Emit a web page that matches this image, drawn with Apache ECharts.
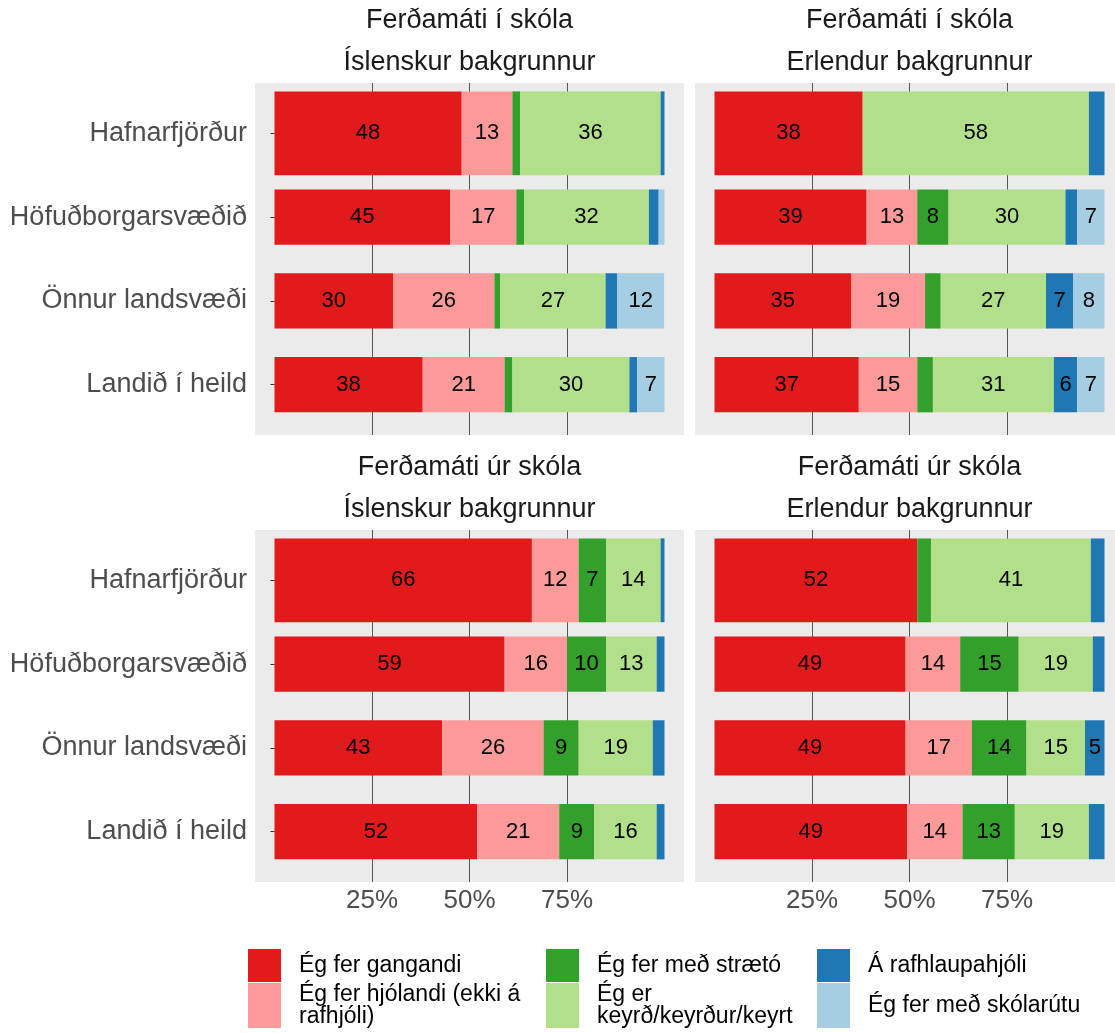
<!DOCTYPE html>
<html><head><meta charset="utf-8">
<script src="https://cdn.jsdelivr.net/npm/echarts@6/dist/echarts.min.js"></script>
<style>html,body{margin:0;padding:0;background:#fff}#c{width:1115px;height:1033px}</style>
</head><body><div id="c"></div>
<script>
// ---- data ----
const categories = ['Hafnarfjörður', 'Höfuðborgarsvæðið', 'Önnur landsvæði', 'Landið í heild'];
const modes = ['Ég fer gangandi', 'Ég fer hjólandi (ekki á rafhjóli)', 'Ég fer með strætó',
  'Ég er keyrð/keyrður/keyrt', 'Á rafhlaupahjóli', 'Ég fer með skólarútu'];
const legendLabels = ['Ég fer gangandi', 'Ég fer hjólandi (ekki á\nrafhjóli)', 'Ég fer með strætó',
  'Ég er\nkeyrð/keyrður/keyrt', 'Á rafhlaupahjóli', 'Ég fer með skólarútu'];
const stripTravel = ['Ferðamáti í skóla', 'Ferðamáti úr skóla'];
const stripBackground = ['Íslenskur bakgrunnur', 'Erlendur bakgrunnur'];
const xTickValues = [25, 50, 75];
// rows: categories, columns: modes (percent)
const iSkolaIslenskur = [
  [48, 13, 2, 36, 1, 0],
  [45, 17, 2, 32, 2.5, 1.5],
  [30.4, 26, 1.5, 27, 3, 12],
  [38, 21, 2, 30, 2, 7]
];
const iSkolaErlendur = [
  [38, 0, 0, 58, 4, 0],
  [39, 13, 8, 30, 3, 7],
  [35, 19, 4, 27, 7, 8],
  [37, 15, 4, 31, 6, 7]
];
const urSkolaIslenskur = [
  [66, 12, 7, 14, 1, 0],
  [59, 16, 10, 13, 2, 0],
  [43, 26, 9, 19, 3, 0],
  [52, 21, 9, 16, 2, 0]
];
const urSkolaErlendur = [
  [52, 0, 3.5, 41, 3.5, 0],
  [49, 14, 15, 19, 3, 0],
  [49, 17, 14, 15, 5, 0],
  [49.4, 14.2, 13.4, 19, 4, 0]
];

// ---- style ----
const palette = ['#E31A1C', '#FB9A99', '#33A02C', '#B2DF8A', '#1F78B4', '#A6CEE3'];
const FONT = "'Liberation Sans', Arial, sans-serif";
const PW = 429, PH = 352, XPAD = 19.5;
const panels = [
  { left: 255, top: 83, data: iSkolaIslenskur, r: 0, c: 0 },
  { left: 695, top: 83, data: iSkolaErlendur, r: 0, c: 1 },
  { left: 255, top: 530, data: urSkolaIslenskur, r: 1, c: 0 },
  { left: 695, top: 530, data: urSkolaErlendur, r: 1, c: 1 }
];

const grid = [], xAxis = [], yAxis = [], series = [], title = [];
const lbl = p => (Math.round(p.value) >= 5 ? String(Math.round(p.value)) : '');

panels.forEach((p, pi) => {
  const showY = p.c === 0, showX = p.r === 1;
  const g = grid.length;
  grid.push({ left: p.left, top: p.top, width: PW, height: PH, show: true, backgroundColor: '#EBEBEB', borderWidth: 0, z: 0 });
  grid.push({ left: p.left + XPAD, top: p.top, width: PW - 2 * XPAD, height: PH, z: 1 });
  grid.push({ left: p.left + XPAD, top: p.top + PH * 0.1 / 4.2, width: PW - 2 * XPAD, height: PH * 4 / 4.2, z: 2 });
  const xb = xAxis.length;
  xAxis.push({ gridIndex: g, type: 'value', show: false, min: 0, max: 1 });
  xAxis.push({
    gridIndex: g + 1, type: 'value', min: 0, max: 100, interval: 25, z: 1,
    axisLine: { show: false }, axisTick: { show: false },
    splitLine: { show: true, showMinLine: false, showMaxLine: false, lineStyle: { color: '#555555', width: 1 } },
    axisLabel: {
      show: showX, showMinLabel: false, showMaxLabel: false,
      formatter: v => (xTickValues.indexOf(v) >= 0 ? v + '%' : ''),
      fontSize: 26, color: '#4D4D4D', fontFamily: FONT, margin: 6
    }
  });
  xAxis.push({ gridIndex: g + 2, type: 'value', min: 0, max: 100, show: false });
  const yb = yAxis.length;
  yAxis.push({ gridIndex: g, type: 'value', show: false, min: 0, max: 1 });
  yAxis.push({ gridIndex: g + 1, type: 'value', show: false, min: 0, max: 1 });
  yAxis.push({
    gridIndex: g + 2, type: 'category', data: categories, inverse: true, offset: XPAD,
    axisLine: { show: false },
    axisTick: { show: showY, alignWithLabel: true, length: 4, lineStyle: { color: '#333333', width: 1 } },
    axisLabel: { show: showY, fontSize: 27, color: '#4D4D4D', margin: 8, fontFamily: FONT },
    splitLine: { show: false }
  });
  yAxis.push({ gridIndex: g + 2, type: 'category', data: categories, inverse: true, show: false });

  modes.forEach((m, mi) => {
    const common = {
      type: 'bar', name: m, xAxisIndex: xb + 2, itemStyle: { color: palette[mi] },
      label: { show: true, position: 'inside', fontSize: 22, color: '#000', fontFamily: FONT, formatter: lbl },
      emphasis: { disabled: true }, z: 3
    };
    series.push(Object.assign({}, common, {
      yAxisIndex: yb + 3, stack: 'h' + pi, barWidth: '100%',
      data: p.data.map((row, ri) => (ri === 0 ? row[mi] : '-'))
    }));
    series.push(Object.assign({}, common, {
      yAxisIndex: yb + 2, stack: 'o' + pi, barWidth: '66%',
      data: p.data.map((row, ri) => (ri === 0 ? '-' : row[mi]))
    }));
  });

  title.push({
    text: stripTravel[p.r] + '\n' + stripBackground[p.c],
    left: p.left + PW / 2, top: p.top - 83, textAlign: 'center', padding: 0,
    textStyle: { fontSize: 27, fontWeight: 'normal', color: '#1A1A1A', lineHeight: 41.5, fontFamily: FONT }
  });
});

const legendPos = [[248, 949, 33], [248, 983, 45], [546, 949, 33], [546, 983, 45], [817, 949, 33], [817, 983, 45]];
const legend = modes.map((m, i) => ({
  data: [m], left: legendPos[i][0], top: legendPos[i][1], orient: 'vertical',
  itemWidth: 33, itemHeight: legendPos[i][2], icon: 'rect', padding: 0, itemGap: 0,
  selectedMode: false, formatter: () => legendLabels[i],
  textStyle: { fontSize: 23, color: '#000', fontFamily: FONT, lineHeight: 22, padding: [0, 0, 0, 13] }
}));

const chart = echarts.init(document.getElementById('c'));
chart.setOption({ animation: false, backgroundColor: '#fff', title, grid, xAxis, yAxis, series, legend, tooltip: { show: false } });
</script></body></html>
